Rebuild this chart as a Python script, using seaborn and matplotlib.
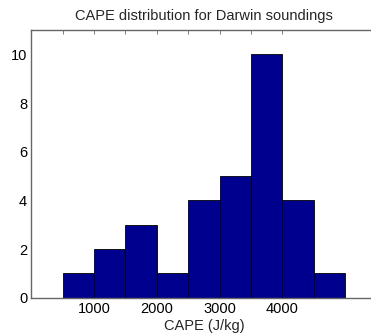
import numpy as np
import pandas as pd
import seaborn as sns
import matplotlib
matplotlib.use("Agg")
import matplotlib.pyplot as plt

# histogram of CAPE values, bins of 500 J/kg
bin_edges = [500, 1000, 1500, 2000, 2500, 3000, 3500, 4000, 4500, 5000]
counts = [1, 2, 3, 1, 4, 5, 10, 4, 1]
x_ticks = [500, 1000, 1500, 2000, 2500, 3000, 3500, 4000]
x_labels = ["", "1000", "", "2000", "", "3000", "", "4000"]
y_ticks = [0, 2, 4, 6, 8, 10]

centers = [(a + b) / 2 for a, b in zip(bin_edges[:-1], bin_edges[1:])]
df = pd.DataFrame({"cape": centers, "n": counts})

sns.set_style("white")
plt.rcParams["font.family"] = ["Liberation Sans", "DejaVu Sans"]

fig = plt.figure(figsize=(3.71, 3.36), dpi=100)
ax = fig.add_axes([0.0844, 0.114, 0.93, 0.7966])

sns.histplot(data=df, x="cape", weights="n", bins=bin_edges,
             color="#00008F", edgecolor="black", linewidth=0.6,
             alpha=1.0, ax=ax)

ax.set_xlim(0, 5500)
ax.set_ylim(0, 11)
ax.set_xticks(x_ticks)
ax.set_xticklabels(x_labels)
ax.set_yticks(y_ticks)

for s in ax.spines.values():
    s.set_visible(True)
    s.set_color("#666666")
    s.set_linewidth(1.0)

ax.tick_params(direction="in", length=3, width=0.6, colors="#666666",
               labelcolor="black", labelsize=10.5, top=True, right=True,
               pad=3)

ax.set_title("CAPE distribution for Darwin soundings", fontsize=10.5, pad=7)
ax.set_xlabel("CAPE (J/kg)", fontsize=10.5, labelpad=2)
ax.set_ylabel("")

fig.savefig("out.png", dpi=100)
